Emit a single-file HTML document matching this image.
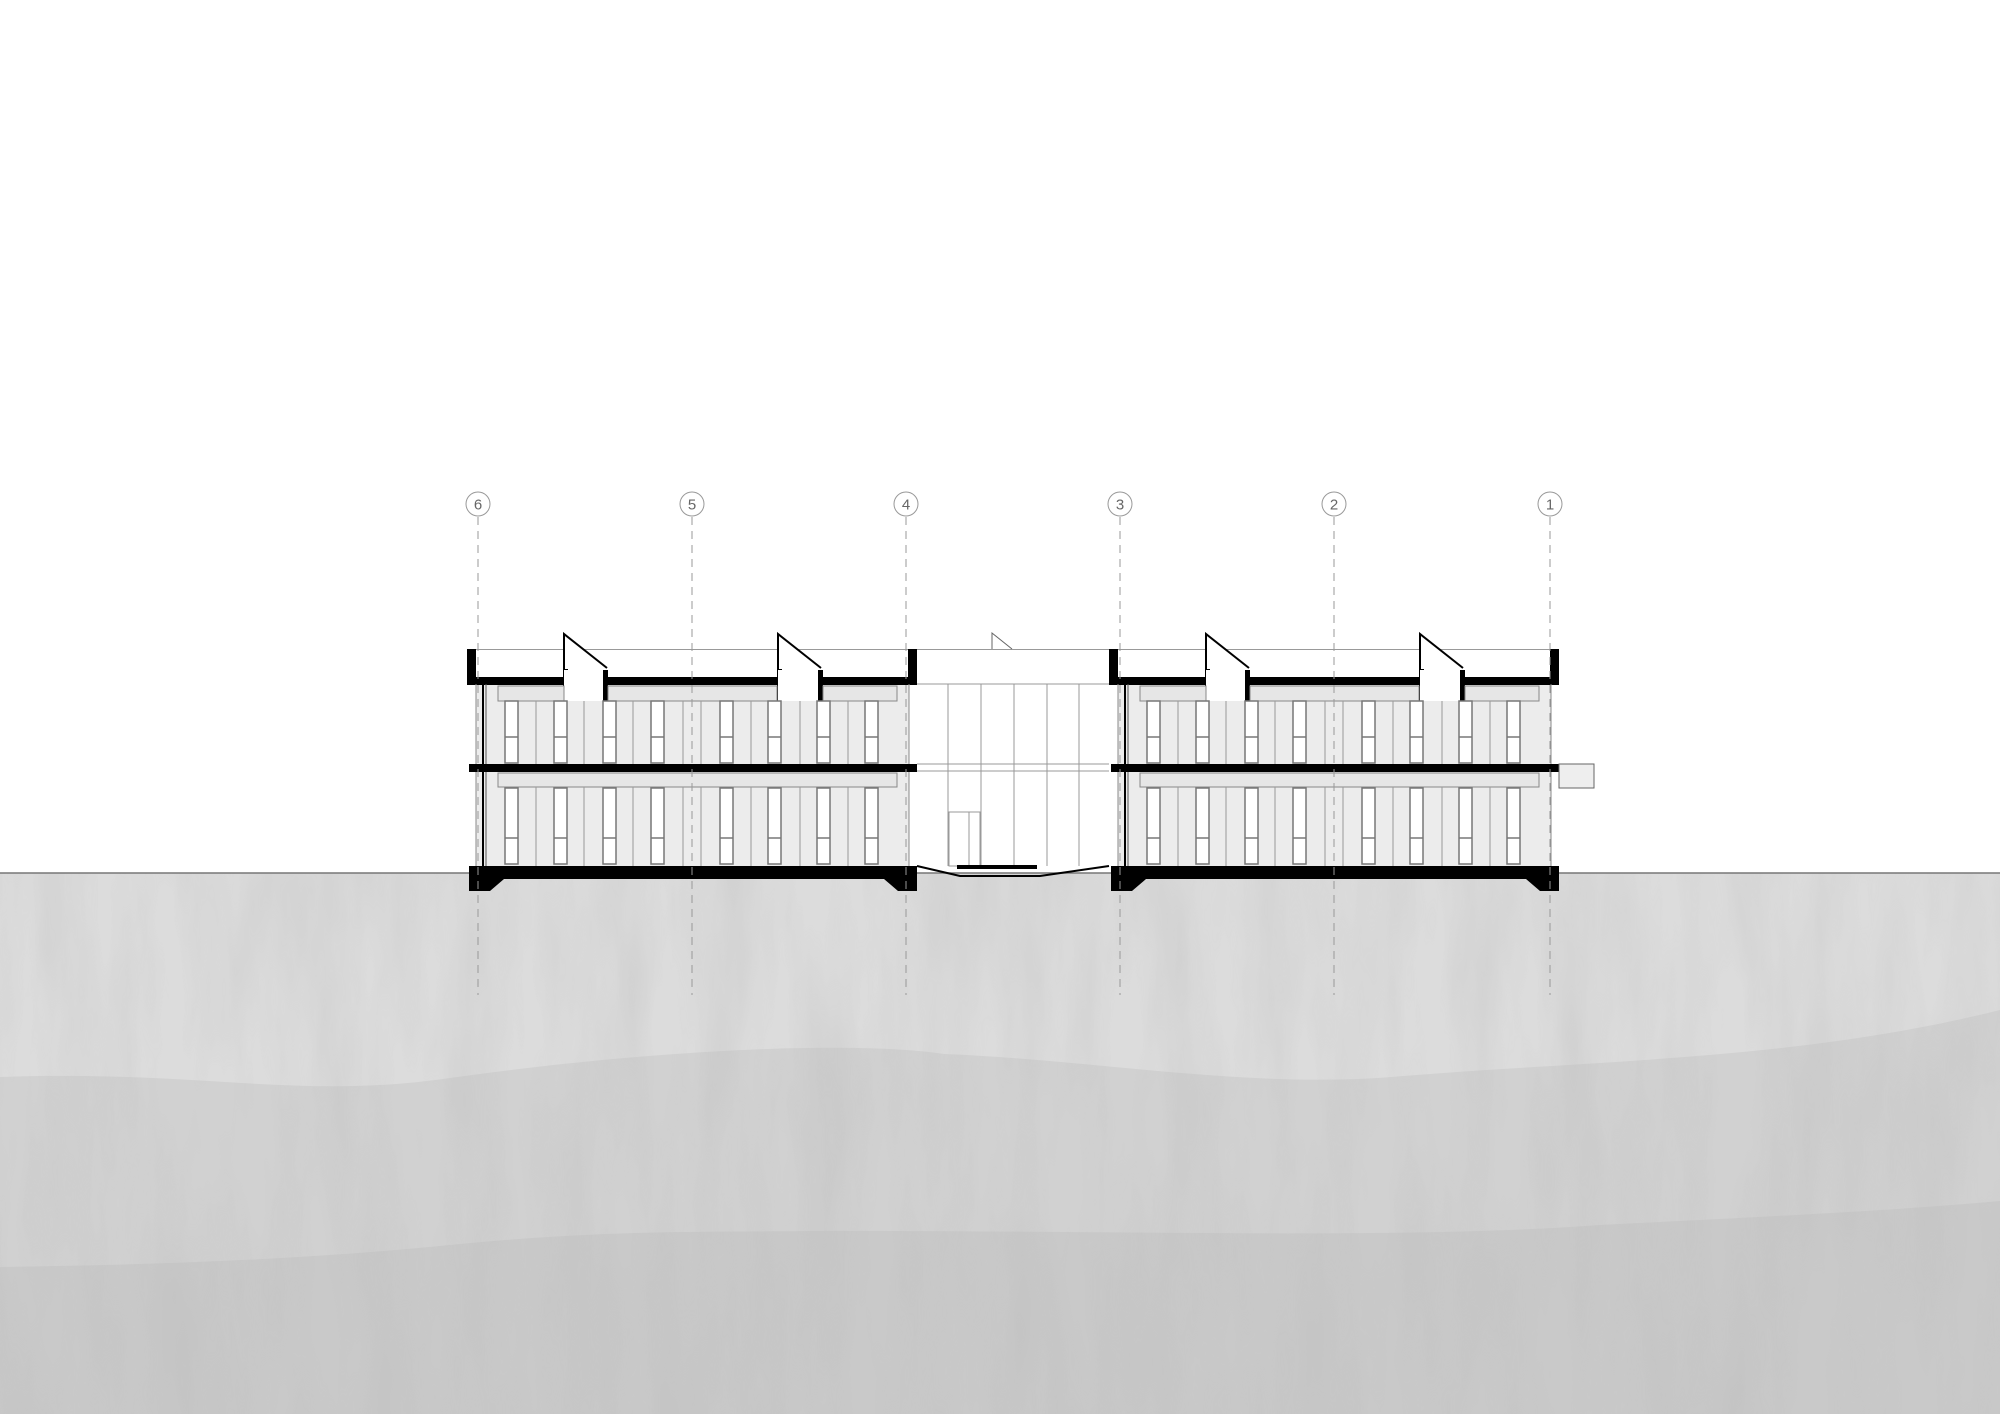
<!DOCTYPE html>
<html><head><meta charset="utf-8"><style>
html,body{margin:0;padding:0;background:#fff;}
svg{display:block}
</style></head><body>
<svg width="2000" height="1414" viewBox="0 0 2000 1414" xmlns="http://www.w3.org/2000/svg">
<defs>
<filter id="tex" x="0" y="0" width="100%" height="100%">
<feTurbulence type="fractalNoise" baseFrequency="0.02 0.004" numOctaves="4" seed="3" result="n"/>
<feColorMatrix type="matrix" values="0 0 0 0 0.5  0 0 0 0 0.5  0 0 0 0 0.5  0 0 0 -1.6 1.1"/>
</filter>
<g id="bld">
  <!-- interior light fill -->
  <rect x="476" y="684" width="433" height="182" fill="#ececec"/>
  <!-- top thin line -->
  <line x1="467" y1="649.5" x2="916" y2="649.5" stroke="#999" stroke-width="1"/>
  <!-- parapets -->
  <rect x="467" y="649" width="9" height="35" fill="#000"/>
  <rect x="908" y="649" width="9" height="35" fill="#000"/>
  <!-- roof slab -->
  <rect x="467" y="677" width="97" height="8" fill="#000"/>
  <rect x="603" y="677" width="175" height="8" fill="#000"/>
  <rect x="818" y="677" width="99" height="8" fill="#000"/>
  <!-- skylights -->
  <rect x="563" y="669" width="5" height="32" fill="#000"/>
  <rect x="603" y="670" width="5" height="31" fill="#000"/>
  <polyline points="564,669 564,634 607,668" fill="#fff" stroke="#000" stroke-width="2"/>
  <rect x="564" y="670" width="39" height="31" fill="#fff"/>
  <rect x="777" y="669" width="5" height="32" fill="#000"/>
  <rect x="818" y="670" width="5" height="31" fill="#000"/>
  <polyline points="778,669 778,634 821,668" fill="#fff" stroke="#000" stroke-width="2"/>
  <rect x="778" y="670" width="40" height="31" fill="#fff"/>
  <!-- beams -->
  <rect x="498" y="686" width="66" height="15" fill="#e6e6e6" stroke="#888" stroke-width="1"/>
  <rect x="608" y="686" width="169" height="15" fill="#e6e6e6" stroke="#888" stroke-width="1"/>
  <rect x="823" y="686" width="74" height="15" fill="#e6e6e6" stroke="#888" stroke-width="1"/>
  <rect x="498" y="773" width="399" height="14" fill="#e6e6e6" stroke="#888" stroke-width="1"/>
  <!-- panel lines -->
  <g stroke="#999" stroke-width="1">
    <line x1="536" y1="701" x2="536" y2="764"/><line x1="584" y1="701" x2="584" y2="764"/><line x1="633" y1="701" x2="633" y2="764"/><line x1="683" y1="701" x2="683" y2="764"/><line x1="701" y1="701" x2="701" y2="764"/><line x1="751" y1="701" x2="751" y2="764"/><line x1="800" y1="701" x2="800" y2="764"/><line x1="848" y1="701" x2="848" y2="764"/>
    <line x1="536" y1="787" x2="536" y2="866"/><line x1="584" y1="787" x2="584" y2="866"/><line x1="633" y1="787" x2="633" y2="866"/><line x1="683" y1="787" x2="683" y2="866"/><line x1="701" y1="787" x2="701" y2="866"/><line x1="751" y1="787" x2="751" y2="866"/><line x1="800" y1="787" x2="800" y2="866"/><line x1="848" y1="787" x2="848" y2="866"/>
  </g>
  <!-- windows -->
  <g fill="#fff" stroke="#777" stroke-width="1.5">
    <rect x="505" y="701" width="13" height="62"/><rect x="554" y="701" width="13" height="62"/><rect x="603" y="701" width="13" height="62"/><rect x="651" y="701" width="13" height="62"/><rect x="720" y="701" width="13" height="62"/><rect x="768" y="701" width="13" height="62"/><rect x="817" y="701" width="13" height="62"/><rect x="865" y="701" width="13" height="62"/>
    <rect x="505" y="788" width="13" height="76"/><rect x="554" y="788" width="13" height="76"/><rect x="603" y="788" width="13" height="76"/><rect x="651" y="788" width="13" height="76"/><rect x="720" y="788" width="13" height="76"/><rect x="768" y="788" width="13" height="76"/><rect x="817" y="788" width="13" height="76"/><rect x="865" y="788" width="13" height="76"/>
  </g>
  <g stroke="#777" stroke-width="1.5">
    <line x1="505" y1="737" x2="518" y2="737"/><line x1="554" y1="737" x2="567" y2="737"/><line x1="603" y1="737" x2="616" y2="737"/><line x1="651" y1="737" x2="664" y2="737"/><line x1="720" y1="737" x2="733" y2="737"/><line x1="768" y1="737" x2="781" y2="737"/><line x1="817" y1="737" x2="830" y2="737"/><line x1="865" y1="737" x2="878" y2="737"/>
    <line x1="505" y1="838" x2="518" y2="838"/><line x1="554" y1="838" x2="567" y2="838"/><line x1="603" y1="838" x2="616" y2="838"/><line x1="651" y1="838" x2="664" y2="838"/><line x1="720" y1="838" x2="733" y2="838"/><line x1="768" y1="838" x2="781" y2="838"/><line x1="817" y1="838" x2="830" y2="838"/><line x1="865" y1="838" x2="878" y2="838"/>
  </g>
  <!-- left exterior wall lines -->
  <rect x="482" y="684" width="2" height="182" fill="#000"/>
  <line x1="486" y1="684" x2="486" y2="866" stroke="#555" stroke-width="1"/>
  <line x1="476" y1="684" x2="476" y2="866" stroke="#888" stroke-width="1"/>
  <line x1="909" y1="684" x2="909" y2="866" stroke="#888" stroke-width="1"/>
  <!-- middle slab -->
  <rect x="469" y="764" width="448" height="8" fill="#000"/>
  <!-- ground slab + foundation -->
  <polygon points="469,866 917,866 917,891 898,891 884,879 504,879 490,891 469,891" fill="#000"/>
</g>
</defs>

<rect width="2000" height="1414" fill="#fff"/>

<!-- ground -->
<rect x="0" y="873" width="2000" height="541" fill="#dcdcdc"/>
<path d="M0,1077 C200,1070 300,1100 450,1078 C650,1050 850,1040 944,1054 C1100,1060 1250,1090 1403,1076 C1600,1060 1800,1060 2000,1010 L2000,1414 L0,1414 Z" fill="#d1d1d1"/>
<path d="M0,1267 C150,1265 300,1260 450,1245 C600,1230 700,1232 816,1231 C1100,1230 1400,1240 1600,1225 C1800,1215 1900,1210 2000,1201 L2000,1414 L0,1414 Z" fill="#c9c9c9"/>
<rect x="0" y="873" width="2000" height="541" filter="url(#tex)" opacity="0.35"/>
<line x1="0" y1="873" x2="2000" y2="873" stroke="#777" stroke-width="1.5"/>

<!-- connector -->
<line x1="916" y1="649.5" x2="1110" y2="649.5" stroke="#999" stroke-width="1"/>
<polyline points="992,649 992,633 1012,649" fill="none" stroke="#666" stroke-width="1"/>
<g stroke="#999" stroke-width="1" fill="none">
  <line x1="917" y1="684" x2="1109" y2="684"/>
  <line x1="917" y1="764" x2="1109" y2="764"/>
  <line x1="917" y1="771" x2="1109" y2="771"/>
  <line x1="948" y1="684" x2="948" y2="866"/><line x1="981" y1="684" x2="981" y2="866"/><line x1="1014" y1="684" x2="1014" y2="866"/><line x1="1047" y1="684" x2="1047" y2="866"/><line x1="1079" y1="684" x2="1079" y2="866"/>
  <rect x="949" y="812" width="31" height="54"/>
  <line x1="969" y1="812" x2="969" y2="866"/>
</g>
<path d="M917,866 L960,876 L1040,876 L1109,866" fill="none" stroke="#000" stroke-width="2"/>
<rect x="957" y="865" width="80" height="4" fill="#000"/>

<use href="#bld"/>
<use href="#bld" transform="translate(642,0)"/>

<!-- right extension -->
<rect x="1559" y="764" width="35" height="24" fill="#eee" stroke="#666" stroke-width="1"/>

<!-- grid lines -->
<g stroke="#999" stroke-width="1" stroke-dasharray="8,6" fill="none">
  <line x1="478" y1="517" x2="478" y2="995"/>
  <line x1="692" y1="517" x2="692" y2="995"/>
  <line x1="906" y1="517" x2="906" y2="995"/>
  <line x1="1120" y1="517" x2="1120" y2="995"/>
  <line x1="1334" y1="517" x2="1334" y2="995"/>
  <line x1="1550" y1="517" x2="1550" y2="995"/>
</g>
<g fill="#fff" stroke="#999" stroke-width="1">
  <circle cx="478" cy="504" r="12"/><circle cx="692" cy="504" r="12"/><circle cx="906" cy="504" r="12"/>
  <circle cx="1120" cy="504" r="12"/><circle cx="1334" cy="504" r="12"/><circle cx="1550" cy="504" r="12"/>
</g>
<g font-family="Liberation Sans, sans-serif" font-size="15" fill="#666" text-anchor="middle">
  <text x="478" y="509.5">6</text><text x="692" y="509.5">5</text><text x="906" y="509.5">4</text>
  <text x="1120" y="509.5">3</text><text x="1334" y="509.5">2</text><text x="1550" y="509.5">1</text>
</g>
</svg>
</body></html>
